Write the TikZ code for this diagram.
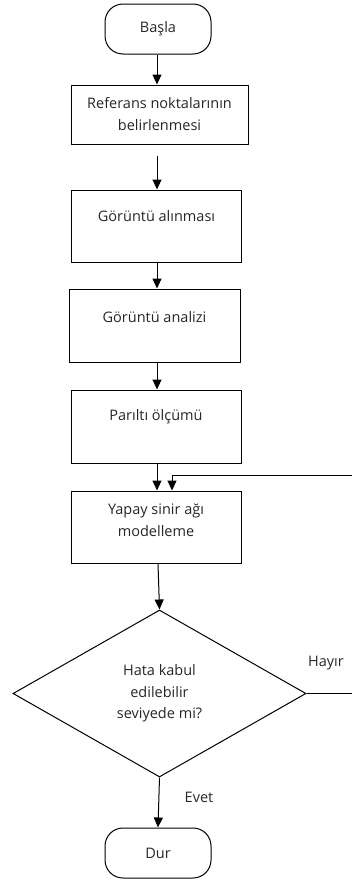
\documentclass[tikz,border=0pt]{standalone}
\usepackage{fontspec}
\setmainfont{Open Sans}
\usetikzlibrary{shapes.geometric,arrows.meta}
\begin{document}
\begin{tikzpicture}[x=1pt,y=-1pt,
  every node/.style={font=\fontsize{14.5}{22}\selectfont, text=black!85},
  term/.style={draw, line width=1pt, rounded corners=18pt, minimum width=106pt, minimum height=50pt, inner sep=0pt},
  box/.style={draw, line width=1pt, minimum height=72pt, inner sep=0pt},
  txt/.style={align=center, inner sep=0pt},
  dec/.style={draw, line width=1pt, diamond, minimum width=293pt, minimum height=167pt, inner sep=0pt, align=center},
  arr/.style={line width=1pt, -{Triangle[width=9pt,length=10pt]}},
  ln/.style={line width=1pt}]
\useasboundingbox (0,0) rectangle (352,886);
\node[term] (start) at (158,29) {Başla};
\node[box, minimum width=177pt, minimum height=59pt, align=center] (b1) at (159.5,114.5) {Referans noktalarının\\belirlenmesi};
\node[box, minimum width=170pt] (b2) at (156.5,226) {};
\node[txt] (t2) at (156.5,216) {Görüntü alınması};
\node[box, minimum width=171pt, minimum height=73pt] (b3) at (154.5,325.5) {};
\node[txt] (t3) at (154.5,317) {Görüntü analizi};
\node[box, minimum width=170pt, minimum height=73pt] (b4) at (156,426.5) {};
\node[txt] (t4) at (156,417) {Parıltı ölçümü};
\node[box, minimum width=170pt] (b5) at (156,527) {};
\node[txt] (t5) at (156,520) {Yapay sinir ağı\\modelleme};
\node[dec, font=\fontsize{14.5}{21.5}\selectfont] (d) at (159.5,693.5) {Hata kabul\\edilebilir\\seviyede mi?};
\node[term] (stop) at (158,853) {Dur};
\node[txt] (hayir) at (326,663) {Hayır};
\node[txt] (evet) at (199,797) {Evet};
\coordinate (fb) at (357,475);
\draw[arr] (start.south -| 157,0) -- (157,0 |- b1.north);
\draw[arr] ([yshift=-11pt]b1.south -| 157,0) -- (157,0 |- b2.north);
\draw[arr] (b2.south -| 157,0) -- (157,0 |- b3.north);
\draw[arr] (b3.south -| 157,0) -- (157,0 |- b4.north);
\draw[arr] (b4.south -| 157,0) -- (157,0 |- b5.north);
\draw[arr] (d.east) -- (d.east -| fb) -- (fb) -- (172,475) -- (172,0 |- b5.north);
\draw[arr] (b5.south -| 158,0) -- (d.north);
\draw[arr] (d.south) -- (158,0 |- stop.north);
\end{tikzpicture}
\end{document}
